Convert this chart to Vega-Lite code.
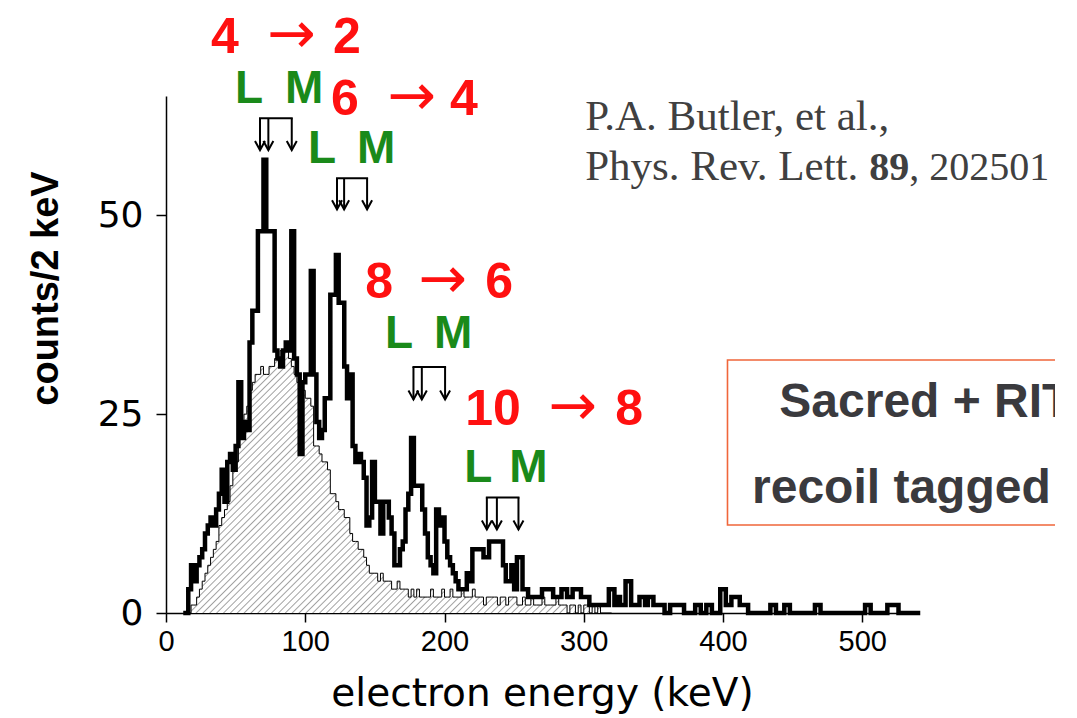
{
  "$schema": "https://vega.github.io/schema/vega-lite/v6.json",
  "autosize": {"type": "none"},
  "padding": {"left": 166, "top": 96, "right": 137, "bottom": 105},
  "width": 752,
  "height": 517,
  "background": "white",
  "config": {
    "view": {"stroke": null},
    "font": "Liberation Sans",
    "axisX": {"grid": false, "domainColor": "black", "domainWidth": 1.5, "tickColor": "black", "tickWidth": 1.5, "tickSize": 9,
      "labelFont": "Liberation Sans", "labelFontSize": 29, "labelColor": "black", "labelPadding": 5, "labelFlush": false,
      "titleFont": "DejaVu Sans", "titleFontSize": 39, "titleFontWeight": "normal", "titleColor": "black"},
    "axisY": {"grid": false, "domainColor": "black", "domainWidth": 1.5, "tickColor": "black", "tickWidth": 1.5, "tickSize": 10,
      "labelFont": "DejaVu Sans", "labelFontSize": 36, "labelColor": "black", "labelPadding": 13,
      "titleFont": "Liberation Sans", "titleFontSize": 38, "titleFontWeight": "bold", "titleColor": "black"}
  },
  "datasets": {
    "thick": [
      {"e":14,"n":0},{"e":16,"n":3},{"e":18,"n":6},{"e":20,"n":4},{"e":22,"n":6},{"e":24,"n":7},{"e":26,"n":8},{"e":28,"n":10},
      {"e":30,"n":11},{"e":32,"n":12},{"e":34,"n":11},{"e":36,"n":13},{"e":38,"n":15},{"e":40,"n":18},{"e":42,"n":14},{"e":44,"n":19},
      {"e":46,"n":20},{"e":48,"n":18},{"e":50,"n":21},{"e":52,"n":29},{"e":54,"n":22},{"e":56,"n":24},{"e":58,"n":23},{"e":60,"n":34},
      {"e":62,"n":38},{"e":64,"n":38},{"e":66,"n":48},{"e":68,"n":48},{"e":70,"n":57},{"e":72,"n":48},{"e":74,"n":48},{"e":76,"n":48},
      {"e":78,"n":33},{"e":80,"n":32},{"e":82,"n":31},{"e":84,"n":33},{"e":86,"n":34},{"e":88,"n":33},{"e":90,"n":48},{"e":92,"n":32},
      {"e":94,"n":30},{"e":96,"n":20},{"e":98,"n":29},{"e":100,"n":30},{"e":102,"n":30},{"e":104,"n":43},{"e":106,"n":30},{"e":108,"n":24},
      {"e":110,"n":22},{"e":112,"n":23},{"e":114,"n":27},{"e":116,"n":27},{"e":118,"n":40},{"e":120,"n":40},{"e":122,"n":45},{"e":124,"n":39},
      {"e":126,"n":39},{"e":128,"n":31},{"e":130,"n":27},{"e":132,"n":30},{"e":134,"n":21},{"e":136,"n":19},{"e":138,"n":20},{"e":140,"n":19},
      {"e":142,"n":17},{"e":144,"n":11},{"e":146,"n":12},{"e":148,"n":19},{"e":150,"n":14},{"e":152,"n":14},{"e":154,"n":10},{"e":156,"n":14},
      {"e":158,"n":14},{"e":160,"n":12},{"e":162,"n":10},{"e":164,"n":6},{"e":166,"n":6},{"e":168,"n":8},{"e":170,"n":9},{"e":172,"n":13},
      {"e":174,"n":15},{"e":176,"n":22},{"e":178,"n":16},{"e":180,"n":16},{"e":182,"n":16},{"e":184,"n":13},{"e":186,"n":10},{"e":188,"n":7},
      {"e":190,"n":6},{"e":192,"n":5},{"e":194,"n":13},{"e":196,"n":11},{"e":198,"n":12},{"e":200,"n":9},{"e":202,"n":7},{"e":204,"n":6},
      {"e":206,"n":5},{"e":208,"n":4},{"e":210,"n":3},{"e":212,"n":3},{"e":214,"n":3},{"e":216,"n":5},{"e":218,"n":4},{"e":220,"n":8},
      {"e":222,"n":8},{"e":224,"n":8},{"e":226,"n":8},{"e":228,"n":7},{"e":230,"n":7},{"e":232,"n":9},{"e":234,"n":9},{"e":236,"n":9},
      {"e":238,"n":9},{"e":240,"n":9},{"e":242,"n":6},{"e":244,"n":4},{"e":246,"n":4},{"e":248,"n":6},{"e":250,"n":3},{"e":252,"n":7},
      {"e":254,"n":7},{"e":256,"n":3},{"e":258,"n":3},{"e":260,"n":2},{"e":262,"n":2},{"e":264,"n":2},{"e":266,"n":2},{"e":268,"n":2},
      {"e":270,"n":3},{"e":272,"n":3},{"e":274,"n":3},{"e":276,"n":3},{"e":278,"n":2},{"e":280,"n":2},{"e":282,"n":2},{"e":284,"n":3},
      {"e":286,"n":3},{"e":288,"n":2},{"e":290,"n":2},{"e":292,"n":3},{"e":294,"n":3},{"e":296,"n":3},{"e":298,"n":2},{"e":300,"n":2},
      {"e":302,"n":2},{"e":304,"n":1},{"e":318,"n":3},{"e":320,"n":3},{"e":322,"n":1},{"e":324,"n":2},{"e":326,"n":1},{"e":330,"n":4},
      {"e":332,"n":4},{"e":334,"n":1},{"e":340,"n":2},{"e":342,"n":2},{"e":344,"n":1},{"e":346,"n":2},{"e":348,"n":2},{"e":350,"n":1},
      {"e":358,"n":0},{"e":362,"n":1},{"e":372,"n":0},{"e":380,"n":1},{"e":384,"n":0},{"e":388,"n":1},{"e":392,"n":0},{"e":398,"n":3},
      {"e":400,"n":3},{"e":402,"n":1},{"e":406,"n":2},{"e":408,"n":2},{"e":410,"n":2},{"e":412,"n":1},{"e":418,"n":0},{"e":434,"n":1},
      {"e":438,"n":0},{"e":444,"n":1},{"e":448,"n":0},{"e":466,"n":1},{"e":470,"n":0},{"e":502,"n":1},{"e":506,"n":0},{"e":518,"n":1},
      {"e":526,"n":0},{"e":540,"n":0}
    ],
    "thin": [
      {"e":16,"n":0},{"e":18,"n":1},{"e":20,"n":1},{"e":22,"n":2},{"e":24,"n":3},{"e":26,"n":4},{"e":28,"n":5},{"e":30,"n":6},
      {"e":32,"n":7},{"e":34,"n":8},{"e":36,"n":9},{"e":38,"n":11},{"e":40,"n":12},{"e":42,"n":13},{"e":44,"n":14},{"e":46,"n":16},
      {"e":48,"n":18},{"e":50,"n":19},{"e":52,"n":22},{"e":54,"n":23},{"e":56,"n":25},{"e":58,"n":26},{"e":60,"n":28},{"e":62,"n":29},
      {"e":64,"n":30},{"e":66,"n":30},{"e":68,"n":31},{"e":70,"n":30},{"e":72,"n":30},{"e":74,"n":31},{"e":76,"n":31},{"e":78,"n":32},
      {"e":80,"n":32},{"e":82,"n":33},{"e":84,"n":33},{"e":86,"n":33},{"e":88,"n":32},{"e":90,"n":31},{"e":92,"n":30},{"e":94,"n":29},
      {"e":96,"n":28},{"e":98,"n":28},{"e":100,"n":27},{"e":102,"n":27},{"e":104,"n":26},{"e":106,"n":21},{"e":108,"n":21},{"e":110,"n":20},
      {"e":112,"n":19},{"e":114,"n":19},{"e":116,"n":18},{"e":118,"n":15},{"e":120,"n":15},{"e":122,"n":14},{"e":124,"n":13},{"e":126,"n":13},
      {"e":128,"n":12},{"e":130,"n":12},{"e":132,"n":10},{"e":134,"n":9},{"e":136,"n":9},{"e":138,"n":8},{"e":140,"n":8},{"e":142,"n":7},
      {"e":144,"n":6},{"e":146,"n":5},{"e":148,"n":5},{"e":150,"n":5},{"e":152,"n":4},{"e":154,"n":5},{"e":156,"n":4},{"e":158,"n":4},
      {"e":160,"n":4},{"e":162,"n":3},{"e":164,"n":3},{"e":166,"n":4},{"e":168,"n":3},{"e":170,"n":3},{"e":172,"n":3},{"e":174,"n":2},
      {"e":176,"n":3},{"e":178,"n":2},{"e":180,"n":3},{"e":182,"n":2},{"e":184,"n":2},{"e":186,"n":2},{"e":188,"n":2},{"e":190,"n":3},
      {"e":192,"n":2},{"e":194,"n":2},{"e":196,"n":2},{"e":198,"n":3},{"e":200,"n":2},{"e":202,"n":2},{"e":204,"n":3},{"e":206,"n":2},
      {"e":208,"n":2},{"e":210,"n":2},{"e":212,"n":3},{"e":214,"n":2},{"e":216,"n":2},{"e":218,"n":2},{"e":220,"n":3},{"e":222,"n":2},
      {"e":224,"n":2},{"e":226,"n":2},{"e":228,"n":1},{"e":230,"n":2},{"e":232,"n":2},{"e":234,"n":2},{"e":236,"n":2},{"e":238,"n":1},
      {"e":240,"n":2},{"e":242,"n":2},{"e":244,"n":1},{"e":246,"n":2},{"e":248,"n":2},{"e":250,"n":2},{"e":252,"n":1},{"e":254,"n":1},
      {"e":256,"n":2},{"e":258,"n":1},{"e":260,"n":1},{"e":262,"n":2},{"e":264,"n":1},{"e":266,"n":1},{"e":268,"n":1},{"e":270,"n":2},
      {"e":272,"n":1},{"e":274,"n":1},{"e":276,"n":1},{"e":278,"n":1},{"e":280,"n":2},{"e":282,"n":1},{"e":284,"n":1},{"e":286,"n":1},
      {"e":288,"n":0},{"e":290,"n":1},{"e":292,"n":1},{"e":294,"n":0},{"e":296,"n":1},{"e":298,"n":0},{"e":300,"n":1},{"e":302,"n":1},
      {"e":304,"n":0},{"e":306,"n":1},{"e":308,"n":0},{"e":310,"n":1},{"e":312,"n":0},{"e":320,"n":0}
    ],
    "arrows": [
      {"b":1,"e":67.5,"top":62.2,"tip":58.2},{"b":1,"e":73.5,"top":62.2,"tip":58.2},{"b":1,"e":90.3,"top":62.2,"tip":58.2},
      {"b":2,"e":122.8,"top":54.65,"tip":50.75},{"b":2,"e":127.9,"top":54.65,"tip":50.75},{"b":2,"e":144.4,"top":54.65,"tip":50.75},
      {"b":3,"e":177.7,"top":30.94,"tip":26.85},{"b":3,"e":183.7,"top":30.94,"tip":26.85},{"b":3,"e":200.4,"top":30.94,"tip":26.85},
      {"b":4,"e":230.4,"top":14.53,"tip":10.51},{"b":4,"e":237.6,"top":14.53,"tip":10.51},{"b":4,"e":253.1,"top":14.53,"tip":10.51}
    ],
    "brackets": [
      {"b":1,"e1":67.5,"e2":90.3,"top":62.2},
      {"b":2,"e1":122.8,"e2":144.4,"top":54.65},
      {"b":3,"e1":177.7,"e2":200.4,"top":30.94},
      {"b":4,"e1":230.4,"e2":253.1,"top":14.53}
    ],
    "digits": [
      {"t":"4","e":32.3,"c":70.35},{"t":"2","e":120.0,"c":70.35},
      {"t":"6","e":118.5,"c":62.56},{"t":"4","e":204.0,"c":62.56},
      {"t":"8","e":143.0,"c":39.57},{"t":"6","e":229.2,"c":39.57},
      {"t":"10","e":214.8,"c":23.62},{"t":"8","e":322.6,"c":23.62}
    ],
    "transarrows": [
      {"t":"→","e":89.9,"c":72.5},{"t":"→","e":176.4,"c":64.8},
      {"t":"→","e":198.6,"c":41.8},{"t":"→","e":292.0,"c":25.75}
    ],
    "shells": [
      {"t":"L","e":49.6,"c":64.07},{"t":"M","e":85.5,"c":64.07},
      {"t":"L","e":102.0,"c":56.53},{"t":"M","e":137.2,"c":56.53},
      {"t":"L","e":157.3,"c":33.29},{"t":"M","e":192.5,"c":33.29},
      {"t":"L","e":214.1,"c":16.46},{"t":"M","e":246.4,"c":16.46}
    ],
    "box": [{"e1":403.2,"e2":700,"c1":31.8,"c2":11.06}],
    "boxtext": [
      {"t":"Sacred + RITU","e":440.4,"c":24.7},
      {"t":"recoil tagged","e":420.8,"c":13.8}
    ],
    "cite": [
      {"t":"P.A. Butler, et al.,","e":301.0,"c":60.68},
      {"t":"Phys. Rev. Lett.","e":301.0,"c":54.40}
    ],
    "citenum": [{"t":", 202501","e":533.8,"c":54.40}],
    "citebold": [{"t":"89","e":505.0,"c":54.40}]
  },
  "layer": [
    {
      "data": {"name": "thin"},
      "mark": {"type": "area", "interpolate": "step-after", "fill": {"gradient": "linear", "x1": 0, "y1": 0, "x2": 1.169, "y2": 0.727, "stops": [
        {"offset":0,"color":"#fff"},
        {"offset":0.003,"color":"#fff"},{"offset":0.005,"color":"#a0a0a0"},{"offset":0.007,"color":"#fff"},
        {"offset":0.013,"color":"#fff"},{"offset":0.015,"color":"#a0a0a0"},{"offset":0.017,"color":"#fff"},
        {"offset":0.023,"color":"#fff"},{"offset":0.025,"color":"#a0a0a0"},{"offset":0.027,"color":"#fff"},
        {"offset":0.033,"color":"#fff"},{"offset":0.035,"color":"#a0a0a0"},{"offset":0.037,"color":"#fff"},
        {"offset":0.043,"color":"#fff"},{"offset":0.045,"color":"#a0a0a0"},{"offset":0.047,"color":"#fff"},
        {"offset":0.053,"color":"#fff"},{"offset":0.055,"color":"#a0a0a0"},{"offset":0.057,"color":"#fff"},
        {"offset":0.063,"color":"#fff"},{"offset":0.065,"color":"#a0a0a0"},{"offset":0.067,"color":"#fff"},
        {"offset":0.073,"color":"#fff"},{"offset":0.075,"color":"#a0a0a0"},{"offset":0.077,"color":"#fff"},
        {"offset":0.083,"color":"#fff"},{"offset":0.085,"color":"#a0a0a0"},{"offset":0.087,"color":"#fff"},
        {"offset":0.093,"color":"#fff"},{"offset":0.095,"color":"#a0a0a0"},{"offset":0.097,"color":"#fff"},
        {"offset":0.103,"color":"#fff"},{"offset":0.105,"color":"#a0a0a0"},{"offset":0.107,"color":"#fff"},
        {"offset":0.113,"color":"#fff"},{"offset":0.115,"color":"#a0a0a0"},{"offset":0.117,"color":"#fff"},
        {"offset":0.123,"color":"#fff"},{"offset":0.125,"color":"#a0a0a0"},{"offset":0.127,"color":"#fff"},
        {"offset":0.133,"color":"#fff"},{"offset":0.135,"color":"#a0a0a0"},{"offset":0.137,"color":"#fff"},
        {"offset":0.143,"color":"#fff"},{"offset":0.145,"color":"#a0a0a0"},{"offset":0.147,"color":"#fff"},
        {"offset":0.153,"color":"#fff"},{"offset":0.155,"color":"#a0a0a0"},{"offset":0.157,"color":"#fff"},
        {"offset":0.163,"color":"#fff"},{"offset":0.165,"color":"#a0a0a0"},{"offset":0.167,"color":"#fff"},
        {"offset":0.173,"color":"#fff"},{"offset":0.175,"color":"#a0a0a0"},{"offset":0.177,"color":"#fff"},
        {"offset":0.183,"color":"#fff"},{"offset":0.185,"color":"#a0a0a0"},{"offset":0.187,"color":"#fff"},
        {"offset":0.193,"color":"#fff"},{"offset":0.195,"color":"#a0a0a0"},{"offset":0.197,"color":"#fff"},
        {"offset":0.203,"color":"#fff"},{"offset":0.205,"color":"#a0a0a0"},{"offset":0.207,"color":"#fff"},
        {"offset":0.213,"color":"#fff"},{"offset":0.215,"color":"#a0a0a0"},{"offset":0.217,"color":"#fff"},
        {"offset":0.223,"color":"#fff"},{"offset":0.225,"color":"#a0a0a0"},{"offset":0.227,"color":"#fff"},
        {"offset":0.233,"color":"#fff"},{"offset":0.235,"color":"#a0a0a0"},{"offset":0.237,"color":"#fff"},
        {"offset":0.243,"color":"#fff"},{"offset":0.245,"color":"#a0a0a0"},{"offset":0.247,"color":"#fff"},
        {"offset":0.253,"color":"#fff"},{"offset":0.255,"color":"#a0a0a0"},{"offset":0.257,"color":"#fff"},
        {"offset":0.263,"color":"#fff"},{"offset":0.265,"color":"#a0a0a0"},{"offset":0.267,"color":"#fff"},
        {"offset":0.273,"color":"#fff"},{"offset":0.275,"color":"#a0a0a0"},{"offset":0.277,"color":"#fff"},
        {"offset":0.283,"color":"#fff"},{"offset":0.285,"color":"#a0a0a0"},{"offset":0.287,"color":"#fff"},
        {"offset":0.293,"color":"#fff"},{"offset":0.295,"color":"#a0a0a0"},{"offset":0.297,"color":"#fff"},
        {"offset":0.303,"color":"#fff"},{"offset":0.305,"color":"#a0a0a0"},{"offset":0.307,"color":"#fff"},
        {"offset":0.313,"color":"#fff"},{"offset":0.315,"color":"#a0a0a0"},{"offset":0.317,"color":"#fff"},
        {"offset":0.323,"color":"#fff"},{"offset":0.325,"color":"#a0a0a0"},{"offset":0.327,"color":"#fff"},
        {"offset":0.333,"color":"#fff"},{"offset":0.335,"color":"#a0a0a0"},{"offset":0.337,"color":"#fff"},
        {"offset":0.343,"color":"#fff"},{"offset":0.345,"color":"#a0a0a0"},{"offset":0.347,"color":"#fff"},
        {"offset":0.353,"color":"#fff"},{"offset":0.355,"color":"#a0a0a0"},{"offset":0.357,"color":"#fff"},
        {"offset":0.363,"color":"#fff"},{"offset":0.365,"color":"#a0a0a0"},{"offset":0.367,"color":"#fff"},
        {"offset":0.373,"color":"#fff"},{"offset":0.375,"color":"#a0a0a0"},{"offset":0.377,"color":"#fff"},
        {"offset":0.383,"color":"#fff"},{"offset":0.385,"color":"#a0a0a0"},{"offset":0.387,"color":"#fff"},
        {"offset":0.393,"color":"#fff"},{"offset":0.395,"color":"#a0a0a0"},{"offset":0.397,"color":"#fff"},
        {"offset":0.403,"color":"#fff"},{"offset":0.405,"color":"#a0a0a0"},{"offset":0.407,"color":"#fff"},
        {"offset":0.413,"color":"#fff"},{"offset":0.415,"color":"#a0a0a0"},{"offset":0.417,"color":"#fff"},
        {"offset":0.423,"color":"#fff"},{"offset":0.425,"color":"#a0a0a0"},{"offset":0.427,"color":"#fff"},
        {"offset":0.433,"color":"#fff"},{"offset":0.435,"color":"#a0a0a0"},{"offset":0.437,"color":"#fff"},
        {"offset":0.443,"color":"#fff"},{"offset":0.445,"color":"#a0a0a0"},{"offset":0.447,"color":"#fff"},
        {"offset":0.453,"color":"#fff"},{"offset":0.455,"color":"#a0a0a0"},{"offset":0.457,"color":"#fff"},
        {"offset":0.463,"color":"#fff"},{"offset":0.465,"color":"#a0a0a0"},{"offset":0.467,"color":"#fff"},
        {"offset":0.473,"color":"#fff"},{"offset":0.475,"color":"#a0a0a0"},{"offset":0.477,"color":"#fff"},
        {"offset":0.483,"color":"#fff"},{"offset":0.485,"color":"#a0a0a0"},{"offset":0.487,"color":"#fff"},
        {"offset":0.493,"color":"#fff"},{"offset":0.495,"color":"#a0a0a0"},{"offset":0.497,"color":"#fff"},
        {"offset":0.503,"color":"#fff"},{"offset":0.505,"color":"#a0a0a0"},{"offset":0.507,"color":"#fff"},
        {"offset":0.513,"color":"#fff"},{"offset":0.515,"color":"#a0a0a0"},{"offset":0.517,"color":"#fff"},
        {"offset":0.523,"color":"#fff"},{"offset":0.525,"color":"#a0a0a0"},{"offset":0.527,"color":"#fff"},
        {"offset":0.533,"color":"#fff"},{"offset":0.535,"color":"#a0a0a0"},{"offset":0.537,"color":"#fff"},
        {"offset":0.543,"color":"#fff"},{"offset":0.545,"color":"#a0a0a0"},{"offset":0.547,"color":"#fff"},
        {"offset":0.553,"color":"#fff"},{"offset":0.555,"color":"#a0a0a0"},{"offset":0.557,"color":"#fff"},
        {"offset":0.563,"color":"#fff"},{"offset":0.565,"color":"#a0a0a0"},{"offset":0.567,"color":"#fff"},
        {"offset":0.573,"color":"#fff"},{"offset":0.575,"color":"#a0a0a0"},{"offset":0.577,"color":"#fff"},
        {"offset":0.583,"color":"#fff"},{"offset":0.585,"color":"#a0a0a0"},{"offset":0.587,"color":"#fff"},
        {"offset":0.593,"color":"#fff"},{"offset":0.595,"color":"#a0a0a0"},{"offset":0.597,"color":"#fff"},
        {"offset":0.603,"color":"#fff"},{"offset":0.605,"color":"#a0a0a0"},{"offset":0.607,"color":"#fff"},
        {"offset":0.613,"color":"#fff"},{"offset":0.615,"color":"#a0a0a0"},{"offset":0.617,"color":"#fff"},
        {"offset":0.623,"color":"#fff"},{"offset":0.625,"color":"#a0a0a0"},{"offset":0.627,"color":"#fff"},
        {"offset":0.633,"color":"#fff"},{"offset":0.635,"color":"#a0a0a0"},{"offset":0.637,"color":"#fff"},
        {"offset":0.643,"color":"#fff"},{"offset":0.645,"color":"#a0a0a0"},{"offset":0.647,"color":"#fff"},
        {"offset":0.653,"color":"#fff"},{"offset":0.655,"color":"#a0a0a0"},{"offset":0.657,"color":"#fff"},
        {"offset":0.663,"color":"#fff"},{"offset":0.665,"color":"#a0a0a0"},{"offset":0.667,"color":"#fff"},
        {"offset":0.673,"color":"#fff"},{"offset":0.675,"color":"#a0a0a0"},{"offset":0.677,"color":"#fff"},
        {"offset":0.683,"color":"#fff"},{"offset":0.685,"color":"#a0a0a0"},{"offset":0.687,"color":"#fff"},
        {"offset":0.693,"color":"#fff"},{"offset":0.695,"color":"#a0a0a0"},{"offset":0.697,"color":"#fff"},
        {"offset":0.703,"color":"#fff"},{"offset":0.705,"color":"#a0a0a0"},{"offset":0.707,"color":"#fff"},
        {"offset":0.713,"color":"#fff"},{"offset":0.715,"color":"#a0a0a0"},{"offset":0.717,"color":"#fff"},
        {"offset":0.723,"color":"#fff"},{"offset":0.725,"color":"#a0a0a0"},{"offset":0.727,"color":"#fff"},
        {"offset":0.733,"color":"#fff"},{"offset":0.735,"color":"#a0a0a0"},{"offset":0.737,"color":"#fff"},
        {"offset":0.743,"color":"#fff"},{"offset":0.745,"color":"#a0a0a0"},{"offset":0.747,"color":"#fff"},
        {"offset":0.753,"color":"#fff"},{"offset":0.755,"color":"#a0a0a0"},{"offset":0.757,"color":"#fff"},
        {"offset":0.763,"color":"#fff"},{"offset":0.765,"color":"#a0a0a0"},{"offset":0.767,"color":"#fff"},
        {"offset":0.773,"color":"#fff"},{"offset":0.775,"color":"#a0a0a0"},{"offset":0.777,"color":"#fff"},
        {"offset":0.783,"color":"#fff"},{"offset":0.785,"color":"#a0a0a0"},{"offset":0.787,"color":"#fff"},
        {"offset":0.793,"color":"#fff"},{"offset":0.795,"color":"#a0a0a0"},{"offset":0.797,"color":"#fff"},
        {"offset":0.803,"color":"#fff"},{"offset":0.805,"color":"#a0a0a0"},{"offset":0.807,"color":"#fff"},
        {"offset":0.813,"color":"#fff"},{"offset":0.815,"color":"#a0a0a0"},{"offset":0.817,"color":"#fff"},
        {"offset":0.823,"color":"#fff"},{"offset":0.825,"color":"#a0a0a0"},{"offset":0.827,"color":"#fff"},
        {"offset":0.833,"color":"#fff"},{"offset":0.835,"color":"#a0a0a0"},{"offset":0.837,"color":"#fff"},
        {"offset":0.843,"color":"#fff"},{"offset":0.845,"color":"#a0a0a0"},{"offset":0.847,"color":"#fff"},
        {"offset":0.853,"color":"#fff"},{"offset":0.855,"color":"#a0a0a0"},{"offset":0.857,"color":"#fff"},
        {"offset":0.863,"color":"#fff"},{"offset":0.865,"color":"#a0a0a0"},{"offset":0.867,"color":"#fff"},
        {"offset":0.873,"color":"#fff"},{"offset":0.875,"color":"#a0a0a0"},{"offset":0.877,"color":"#fff"},
        {"offset":0.883,"color":"#fff"},{"offset":0.885,"color":"#a0a0a0"},{"offset":0.887,"color":"#fff"},
        {"offset":0.893,"color":"#fff"},{"offset":0.895,"color":"#a0a0a0"},{"offset":0.897,"color":"#fff"},
        {"offset":0.903,"color":"#fff"},{"offset":0.905,"color":"#a0a0a0"},{"offset":0.907,"color":"#fff"},
        {"offset":0.913,"color":"#fff"},{"offset":0.915,"color":"#a0a0a0"},{"offset":0.917,"color":"#fff"},
        {"offset":0.923,"color":"#fff"},{"offset":0.925,"color":"#a0a0a0"},{"offset":0.927,"color":"#fff"},
        {"offset":0.933,"color":"#fff"},{"offset":0.935,"color":"#a0a0a0"},{"offset":0.937,"color":"#fff"},
        {"offset":0.943,"color":"#fff"},{"offset":0.945,"color":"#a0a0a0"},{"offset":0.947,"color":"#fff"},
        {"offset":0.953,"color":"#fff"},{"offset":0.955,"color":"#a0a0a0"},{"offset":0.957,"color":"#fff"},
        {"offset":0.963,"color":"#fff"},{"offset":0.965,"color":"#a0a0a0"},{"offset":0.967,"color":"#fff"},
        {"offset":0.973,"color":"#fff"},{"offset":0.975,"color":"#a0a0a0"},{"offset":0.977,"color":"#fff"},
        {"offset":0.983,"color":"#fff"},{"offset":0.985,"color":"#a0a0a0"},{"offset":0.987,"color":"#fff"},
        {"offset":0.993,"color":"#fff"},{"offset":0.995,"color":"#a0a0a0"},{"offset":0.997,"color":"#fff"},
        {"offset":1,"color":"#fff"}
      ]}},
      "encoding": {
        "x": {"field": "e", "type": "quantitative", "scale": {"domain": [0, 540], "nice": false, "zero": false},
          "axis": {"values": [0, 100, 200, 300, 400, 500], "title": "electron energy (keV)", "titleBaseline": "alphabetic", "titleY": 92}},
        "y": {"field": "n", "type": "quantitative", "scale": {"domain": [0, 65], "nice": false},
          "axis": {"values": [0, 25, 50], "title": "counts/2 keV", "titleAngle": -90, "titleX": -109, "titleY": 192,
            "titleBaseline": "alphabetic", "titleAlign": "center"}}
      }
    },
    {
      "data": {"name": "thin"},
      "mark": {"type": "line", "interpolate": "step-after", "color": "black", "strokeWidth": 1},
      "encoding": {
        "x": {"field": "e", "type": "quantitative"},
        "y": {"field": "n", "type": "quantitative"}
      }
    },
    {
      "data": {"name": "thick"},
      "mark": {"type": "line", "interpolate": "step-after", "color": "black", "strokeWidth": 4.5, "strokeJoin": "miter", "strokeCap": "square"},
      "encoding": {
        "x": {"field": "e", "type": "quantitative"},
        "y": {"field": "n", "type": "quantitative"}
      }
    },
    {
      "data": {"name": "arrows"},
      "mark": {"type": "rule", "color": "black", "strokeWidth": 2},
      "encoding": {
        "x": {"field": "e", "type": "quantitative"},
        "y": {"field": "top", "type": "quantitative"},
        "y2": {"field": "tip"}
      }
    },
    {
      "data": {"name": "brackets"},
      "mark": {"type": "rule", "color": "black", "strokeWidth": 2, "strokeCap": "square"},
      "encoding": {
        "x": {"field": "e1", "type": "quantitative"},
        "x2": {"field": "e2"},
        "y": {"field": "top", "type": "quantitative"}
      }
    },
    {
      "data": {"name": "arrows"},
      "mark": {"type": "point", "shape": "M-1,-1.8L0,0L1,-1.8", "filled": false, "stroke": "black", "strokeWidth": 2, "size": 100, "opacity": 1},
      "encoding": {
        "x": {"field": "e", "type": "quantitative"},
        "y": {"field": "tip", "type": "quantitative"}
      }
    },
    {
      "data": {"name": "digits"},
      "mark": {"type": "text", "font": "Liberation Sans", "fontWeight": "bold", "fontSize": 50, "color": "#ff1010", "align": "left", "baseline": "alphabetic"},
      "encoding": {
        "x": {"field": "e", "type": "quantitative"},
        "y": {"field": "c", "type": "quantitative"},
        "text": {"field": "t"}
      }
    },
    {
      "data": {"name": "transarrows"},
      "mark": {"type": "text", "font": "DejaVu Sans", "fontWeight": "normal", "fontSize": 58, "color": "#ff1010", "align": "center", "baseline": "middle"},
      "encoding": {
        "x": {"field": "e", "type": "quantitative"},
        "y": {"field": "c", "type": "quantitative"},
        "text": {"field": "t"}
      }
    },
    {
      "data": {"name": "shells"},
      "mark": {"type": "text", "font": "Liberation Sans", "fontWeight": "bold", "fontSize": 46, "color": "#1a8a1a", "align": "left", "baseline": "alphabetic"},
      "encoding": {
        "x": {"field": "e", "type": "quantitative"},
        "y": {"field": "c", "type": "quantitative"},
        "text": {"field": "t"}
      }
    },
    {
      "data": {"name": "box"},
      "mark": {"type": "rect", "fill": null, "fillOpacity": 0, "stroke": "#f0663a", "strokeWidth": 1.6},
      "encoding": {
        "x": {"field": "e1", "type": "quantitative"},
        "x2": {"field": "e2"},
        "y": {"field": "c1", "type": "quantitative"},
        "y2": {"field": "c2"}
      }
    },
    {
      "data": {"name": "boxtext"},
      "mark": {"type": "text", "font": "Liberation Sans", "fontWeight": "bold", "fontSize": 48, "color": "#3a3a3e", "align": "left", "baseline": "alphabetic"},
      "encoding": {
        "x": {"field": "e", "type": "quantitative"},
        "y": {"field": "c", "type": "quantitative"},
        "text": {"field": "t"}
      }
    },
    {
      "data": {"name": "cite"},
      "mark": {"type": "text", "font": "Liberation Serif", "fontWeight": "normal", "fontSize": 43, "color": "#404040", "align": "left", "baseline": "alphabetic"},
      "encoding": {
        "x": {"field": "e", "type": "quantitative"},
        "y": {"field": "c", "type": "quantitative"},
        "text": {"field": "t"}
      }
    },
    {
      "data": {"name": "citenum"},
      "mark": {"type": "text", "font": "Liberation Serif", "fontWeight": "normal", "fontSize": 40, "color": "#404040", "align": "left", "baseline": "alphabetic"},
      "encoding": {
        "x": {"field": "e", "type": "quantitative"},
        "y": {"field": "c", "type": "quantitative"},
        "text": {"field": "t"}
      }
    },
    {
      "data": {"name": "citebold"},
      "mark": {"type": "text", "font": "Liberation Serif", "fontWeight": "bold", "fontSize": 40, "color": "#404040", "align": "left", "baseline": "alphabetic"},
      "encoding": {
        "x": {"field": "e", "type": "quantitative"},
        "y": {"field": "c", "type": "quantitative"},
        "text": {"field": "t"}
      }
    }
  ]
}
